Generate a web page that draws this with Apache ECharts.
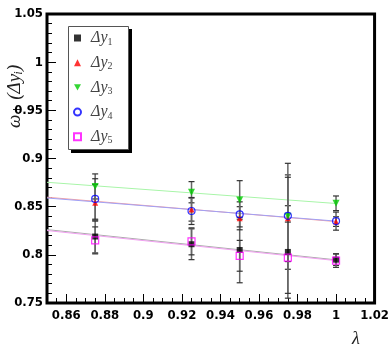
<!DOCTYPE html>
<html>
<head>
<meta charset="utf-8">
<title>omega vs lambda</title>
<script src="https://cdn.jsdelivr.net/npm/echarts@6/dist/echarts.min.js"></script>
<style>
	html, body { margin: 0; padding: 0; background: #fff; }
	#main { width: 392px; height: 349px; }
</style>
</head>
<body>
<div id="main"></div>
<script type="text/javascript">
	// lambda values of the measured points
	var xVals = [0.875, 0.925, 0.95, 0.975, 1.0];
	// omega+ for each delta y, with errors
	var y1 = [0.819, 0.811, 0.805, 0.803, 0.795];
	var e1 = [0.017, 0.016, 0.034, 0.048, 0.006];
	var y2 = [0.854, 0.847, 0.838, 0.838, 0.8345];
	var e2 = [0.019, 0.012, 0.012, 0.045, 0.005];
	var y3 = [0.871, 0.865, 0.857, 0.840, 0.8535];
	var e3 = [0.013, 0.011, 0.020, 0.055, 0.0076];
	var y4 = [0.858, 0.8455, 0.842, 0.8405, 0.835];
	var e4 = [0.021, 0.014, 0.013, 0.040, 0.0094];
	var y5 = [0.815, 0.814, 0.799, 0.797, 0.794];
	var e5 = [0.014, 0.014, 0.016, 0.037, 0.007];
	// straight line fits (start / end)
	var fitX = [0.85, 1.0];
	var fit1 = [0.8262, 0.7948];
	var fit2 = [0.8598, 0.8345];
	var fit3 = [0.8753, 0.8533];
	var fit4 = [0.8590, 0.8350];
	var fit5 = [0.8252, 0.7940];
	// axis ticks
	var xTicks = [0.86, 0.88, 0.9, 0.92, 0.94, 0.96, 0.98, 1, 1.02];
	var legendNames = ['Δy1', 'Δy2', 'Δy3', 'Δy4', 'Δy5'];

	var tickFont = { fontFamily: "'Liberation Sans Narrow', 'DejaVu Sans Condensed', sans-serif", fontWeight: 'bold', fontSize: 13, color: '#000' };
	var downTri = 'path://M0,0 L10,0 L5,9 Z';

	function pts(ys){
		return xVals.map(function(x, i){ return [x, ys[i]]; });
	}
	function fitPts(f){
		return [[fitX[0], f[0]], [fitX[1], f[1]]];
	}
	// error bar rows: x, low, high
	var errData = [];
	[[y1, e1], [y2, e2], [y3, e3], [y4, e4], [y5, e5]].forEach(function(s){
		xVals.forEach(function(x, i){
			errData.push([x, s[0][i] - s[1][i], s[0][i] + s[1][i]]);
		});
	});

	var myChart = echarts.init(document.getElementById('main'));
	var option = {
		animation: false,
		grid: { left: 47, right: 16, top: 14, bottom: 46, show: true, borderColor: '#000', borderWidth: 3, backgroundColor: 'transparent' },
		xAxis: [{
			type: 'value', min: 0.85, max: 1.02, interval: 0.005,
			axisLine: { show: false },
			axisTick: { show: true, inside: true, length: 5, lineStyle: { color: '#000' } },
			axisLabel: { show: false },
			splitLine: { show: false }
		}, {
			type: 'value', min: 0.85, max: 1.02, position: 'bottom', offset: 0,
			axisLine: { show: false },
			axisTick: { show: true, inside: true, length: 9, customValues: xTicks, lineStyle: { color: '#000' } },
			axisLabel: Object.assign({ customValues: xTicks, margin: 6, showMinLabel: true, showMaxLabel: true }, tickFont),
			splitLine: { show: false }
		}],
		yAxis: {
			type: 'value', min: 0.75, max: 1.05, interval: 0.05,
			axisLine: { show: false },
			axisTick: { show: true, inside: true, length: 9, lineStyle: { color: '#000' } },
			minorTick: { show: true, splitNumber: 5, length: 5, lineStyle: { color: '#000' } },
			axisLabel: Object.assign({ margin: 4 }, tickFont),
			splitLine: { show: false }
		},
		legend: {
			data: legendNames.map(function(n, i){
				return i == 2 ? { name: n, icon: downTri } : { name: n };
			}),
			orient: 'vertical',
			left: 68, top: 24,
			padding: [5, 8, 5, 5],
			itemGap: 6.7,
			itemWidth: 7, itemHeight: 7,
			z: 20,
			formatter: function(name){
				return '{a|Δy}{s|' + name.slice(2) + '}';
			},
			textStyle: {
				padding: [0, 0, 0, 5],
				rich: {
					a: { fontFamily: "'Liberation Serif', serif", fontStyle: 'italic', fontSize: 16, lineHeight: 16, color: '#444' },
					s: { fontFamily: "'Liberation Serif', serif", fontSize: 10, lineHeight: 16, color: '#444', padding: [8, 0, 0, 0] }
				}
			}
		},
		graphic: [{
			// legend frame with shadow
			type: 'rect', z: 10, shape: { x: 71, y: 29, width: 61, height: 124 },
			style: { fill: '#000' }
		}, {
			type: 'rect', z: 11, shape: { x: 68.5, y: 26.5, width: 60, height: 123 },
			style: { fill: '#fff', stroke: '#555', lineWidth: 1 }
		}, {
			type: 'text', x: 5, y: 128, rotation: Math.PI / 2,
			style: { text: 'ω₊ (Δyᵢ)', font: "italic 19px 'Liberation Serif', 'DejaVu Serif', serif", fill: '#222' }
		}, {
			type: 'text', x: 352, y: 330,
			style: { text: 'λ', font: "italic 18px 'Liberation Serif', serif", fill: '#222' }
		}],
		series: [
			{ type: 'line', data: fitPts(fit3), symbol: 'none', silent: true, lineStyle: { color: '#a8f5a8', width: 1 }, z: 1 },
			{ type: 'line', data: fitPts(fit2), symbol: 'none', silent: true, lineStyle: { color: '#f5a0a0', width: 1 }, z: 1 },
			{ type: 'line', data: fitPts(fit4), symbol: 'none', silent: true, lineStyle: { color: '#a0a0f5', width: 1 }, z: 1 },
			{ type: 'line', data: fitPts(fit1), symbol: 'none', silent: true, lineStyle: { color: '#aaaaaa', width: 1 }, z: 1 },
			{ type: 'line', data: fitPts(fit5), symbol: 'none', silent: true, lineStyle: { color: '#f0a0f0', width: 1 }, z: 1 },
			{
				type: 'custom', data: errData, z: 2, silent: true,
				encode: { x: 0, y: [1, 2] },
				renderItem: function(params, api){
					var lo = api.coord([api.value(0), api.value(1)]);
					var hi = api.coord([api.value(0), api.value(2)]);
					var st = { stroke: '#333', lineWidth: 1.2 };
					return {
						type: 'group',
						children: [
							{ type: 'line', shape: { x1: lo[0], y1: lo[1], x2: hi[0], y2: hi[1] }, style: { stroke: '#666', lineWidth: 1.5 } },
							{ type: 'line', shape: { x1: lo[0] - 3, y1: lo[1], x2: lo[0] + 3, y2: lo[1] }, style: st },
							{ type: 'line', shape: { x1: hi[0] - 3, y1: hi[1], x2: hi[0] + 3, y2: hi[1] }, style: st }
						]
					};
				}
			},
			{ name: 'Δy1', type: 'scatter', data: pts(y1), symbol: 'rect', symbolSize: 6, itemStyle: { color: '#000' }, z: 5 },
			{ name: 'Δy2', type: 'scatter', data: pts(y2), symbol: 'triangle', symbolSize: 6, itemStyle: { color: '#f00' }, z: 4 },
			{ name: 'Δy3', type: 'scatter', data: pts(y3), symbol: downTri, symbolSize: 7, itemStyle: { color: '#0c0' }, z: 4 },
			{ name: 'Δy4', type: 'scatter', data: pts(y4), symbol: 'circle', symbolSize: 7, itemStyle: { color: 'transparent', borderColor: '#00f', borderWidth: 1.2 }, z: 6 },
			{ name: 'Δy5', type: 'scatter', data: pts(y5), symbol: 'rect', symbolSize: 7, itemStyle: { color: 'transparent', borderColor: '#f0f', borderWidth: 1.2 }, z: 6 }
		]
	};
	myChart.setOption(option);
</script>
</body>
</html>
